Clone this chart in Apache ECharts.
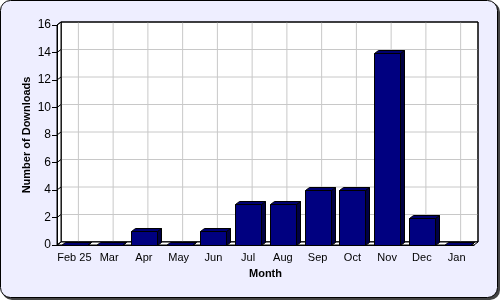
<!DOCTYPE html>
<html><head><meta charset="utf-8">
<script src="https://cdn.jsdelivr.net/npm/echarts@6/dist/echarts.min.js"></script>
<style>html,body{margin:0;padding:0;background:#fff}#c{width:500px;height:300px}</style>
</head><body><div id="c"></div>
<script>
var months = ['Feb 25','Mar','Apr','May','Jun','Jul','Aug','Sep','Oct','Nov','Dec','Jan'];
var downloads = [0,0,1,0,1,3,3,4,4,14,2,0];
var yTicks = [0,2,4,6,8,10,12,14,16];

var DX = 4, DY = -3, FONT = 'Liberation Sans';
var chart = echarts.init(document.getElementById('c'), null, {renderer:'canvas'});

function wallItem(params, api) {
  var bw = api.size([1,0])[0];
  var xl = api.coord([0,0])[0] - bw/2;
  var xr = api.coord([months.length-1,0])[0] + bw/2;
  var y0 = api.coord([0,0])[1];
  var yT = api.coord([0,yTicks[yTicks.length-1]])[1];
  var ch = [];
  ch.push({type:'rect', shape:{x:xl+DX, y:yT+DY, width:xr-xl, height:y0-yT}, style:{fill:'#fff', stroke:'#000', lineWidth:1}});
  for (var k=1;k<yTicks.length-1;k++){
    var y = api.coord([0,yTicks[k]])[1];
    ch.push({type:'line', shape:{x1:xl+DX, y1:y+DY, x2:xr+DX, y2:y+DY}, style:{stroke:'#c8c8c8', lineWidth:1}});
  }
  for (var i=0;i<months.length;i++){
    var x = api.coord([i,0])[0];
    ch.push({type:'line', shape:{x1:x+DX, y1:yT+DY, x2:x+DX, y2:y0+DY}, style:{stroke:'#c8c8c8', lineWidth:1}});
  }
  ch.push({type:'rect', shape:{x:xl+DX, y:yT+DY, width:xr-xl, height:y0-yT}, style:{fill:'none', stroke:'#000', lineWidth:1}});
  ch.push({type:'polygon', shape:{points:[[xl,y0],[xr,y0],[xr+DX,y0+DY],[xl+DX,y0+DY]]}, style:{fill:'#fff', stroke:'#000', lineWidth:1}});
  ch.push({type:'polygon', shape:{points:[[xl,y0],[xl,yT],[xl+DX,yT+DY],[xl+DX,y0+DY]]}, style:{fill:'#fff', stroke:'#000', lineWidth:1}});
  for (var k2=0;k2<yTicks.length;k2++){
    var yy = api.coord([0,yTicks[k2]])[1];
    ch.push({type:'line', shape:{x1:xl, y1:yy, x2:xl+DX, y2:yy+DY}, style:{stroke:'#000', lineWidth:1}});
  }
  return {type:'group', children:ch};
}

function barItem(params, api) {
  var i = api.value(0), v = api.value(1);
  var top = api.coord([i, v]), base = api.coord([i, 0]);
  var w = 26;
  var l = Math.round(top[0] - w/2) + 0.5, r = l + w;
  var t = Math.round(top[1]) + 0.5, b = Math.round(base[1]) + 0.5;
  return {type:'group', children:[
    {type:'polygon', shape:{points:[[r,b],[r,t],[r+DX,t+DY],[r+DX,b+DY]]}, style:{fill:'#000044', stroke:'#000', lineWidth:1}},
    {type:'polygon', shape:{points:[[l,t],[r,t],[r+DX,t+DY],[l+DX,t+DY]]}, style:{fill:'#000070', stroke:'#000', lineWidth:1}},
    {type:'rect', shape:{x:l, y:t, width:w, height:b-t}, style:{fill:'#000080', stroke:'#000', lineWidth:1}}
  ]};
}

chart.setOption({
  animation:false,
  backgroundColor:'transparent',
  graphic:[
    {type:'rect', z:-20, shape:{x:2, y:2, width:498, height:298, r:10}, style:{fill:'#444'}},
    {type:'rect', z:-19, shape:{x:0.5, y:0.5, width:497, height:297, r:10}, style:{fill:'#EEEEFF', stroke:'#000', lineWidth:1}}
  ],
  grid:{left:57, right:26, top:25, bottom:55},
  xAxis:{
    type:'category', data:months, z:10,
    axisLine:{lineStyle:{color:'#000', width:1}},
    axisTick:{alignWithLabel:true, length:5, lineStyle:{color:'#000'}},
    axisLabel:{color:'#000', fontFamily:FONT, fontSize:11, margin:7, interval:0},
    splitLine:{show:false},
    name:'Month', nameLocation:'middle', nameGap:23, nameMoveOverlap:false,
    nameTextStyle:{color:'#000', fontFamily:FONT, fontSize:11, fontWeight:'bold'}
  },
  yAxis:{
    type:'value', min:0, max:16, interval:2, z:10,
    axisLine:{show:true, lineStyle:{color:'#000', width:1}},
    axisTick:{show:true, length:5, lineStyle:{color:'#000'}},
    axisLabel:{color:'#000', fontFamily:FONT, fontSize:12, margin:6},
    splitLine:{show:false},
    name:'Number of Downloads', nameLocation:'middle', nameGap:25, nameMoveOverlap:false,
    nameTextStyle:{color:'#000', fontFamily:FONT, fontSize:11, fontWeight:'bold'}
  },
  series:[
    {type:'custom', z:1, renderItem:wallItem, data:[[0,0]], silent:true},
    {type:'custom', z:3, renderItem:barItem, data:downloads.map(function(v,i){return [i,v];})}
  ]
});
</script></body></html>
